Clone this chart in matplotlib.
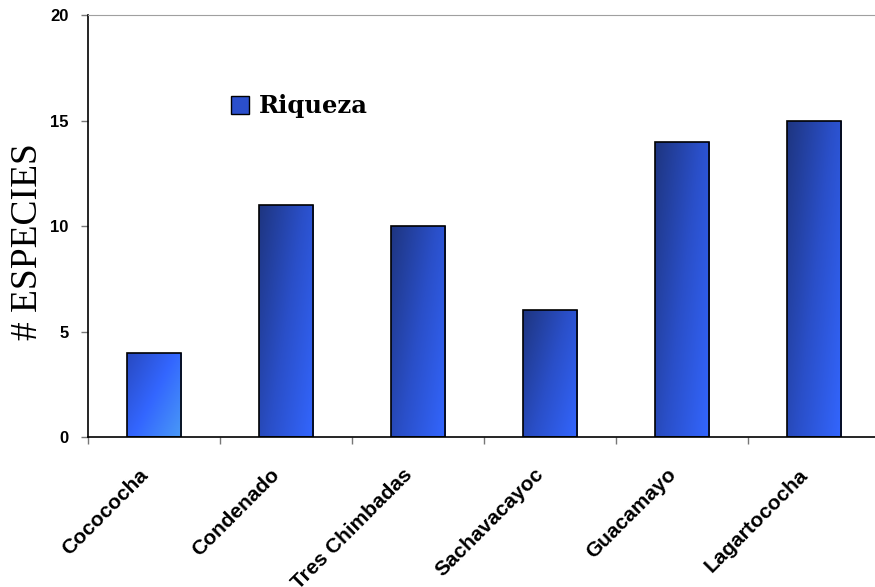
import numpy as np
import matplotlib.pyplot as plt
from matplotlib.colors import LinearSegmentedColormap
from matplotlib.patches import Patch

sitios = ["Cocococha", "Condenado", "Tres Chimbadas", "Sachavacayoc",
          "Guacamayo", "Lagartococha"]
riqueza = [4, 11, 10, 6, 14, 15]
yticks = [0, 5, 10, 15, 20]

fig = plt.figure(figsize=(8.75, 5.87), dpi=100)
ax = fig.add_axes([0.1006, 0.2555, 0.9051, 0.7189])

x = np.arange(len(sitios))
w = 0.41
bars = ax.bar(x, riqueza, width=w, color="none", edgecolor="black",
              linewidth=1.2, zorder=3)

# gradient fill for each bar (dark top-left -> bright bottom-right)
cmap_dark = LinearSegmentedColormap.from_list("d", ["#1E3580", "#2A4FC8", "#3366FF"])
cmap_light = LinearSegmentedColormap.from_list("l", ["#2849C0", "#3366FF", "#4A9AF6"])
gx, gy = np.meshgrid(np.linspace(0, 1, 60), np.linspace(0, 1, 200))
for i, b in enumerate(bars):
    if i == 0:
        grad = 0.55 * gx + 0.45 * gy
        cm = cmap_light
    else:
        grad = 0.6 * gx + 0.4 * gy
        cm = cmap_dark
    x0 = b.get_x()
    im = ax.imshow(grad, extent=[x0, x0 + w, 0, b.get_height()], cmap=cm,
                   aspect="auto", origin="upper", zorder=2, vmin=0, vmax=1)
    im.set_clip_path(b)

ax.set_xlim(-0.5, len(sitios) - 0.5)
ax.set_ylim(0, 20)
ax.set_yticks(yticks)
ax.set_yticklabels([str(t) for t in yticks], fontsize=12, fontweight="bold",
                   family="Liberation Sans")
ax.set_xticks(np.arange(len(sitios) + 1) - 0.5)
ax.set_xticklabels([])
# category names, rotated, hanging from each bar centre
for i, s in enumerate(sitios):
    ax.annotate(s, xy=(x[i], 0), xytext=(-6.5, -25), textcoords="offset points",
                ha="right", va="center", rotation=45, rotation_mode="anchor",
                fontsize=15, fontweight="bold", family="Liberation Sans",
                annotation_clip=False)
ax.tick_params(axis="x", length=5, direction="out", width=1, color="#777777")
ax.tick_params(axis="y", length=5, direction="out", width=1, color="#777777",
               pad=9)

ax.spines["right"].set_visible(False)
ax.spines["top"].set_color("#A0A0A0")
ax.spines["left"].set_linewidth(1.2)
ax.spines["bottom"].set_linewidth(1.2)

ax.set_ylabel("# ESPECIES", fontsize=27, family="Liberation Serif")
ax.yaxis.set_label_coords(-0.054, 0.464)

ax.legend(handles=[Patch(facecolor="#2B4FCC", edgecolor="black")],
          labels=["Riqueza"], loc="center left",
          bbox_to_anchor=(0.18, 0.784), frameon=False, borderpad=0,
          borderaxespad=0, handlelength=0.75, handleheight=0.75,
          handletextpad=0.4,
          prop={"family": "DejaVu Serif", "weight": "bold", "size": 17.5})

fig.savefig("out.png", dpi=100)
